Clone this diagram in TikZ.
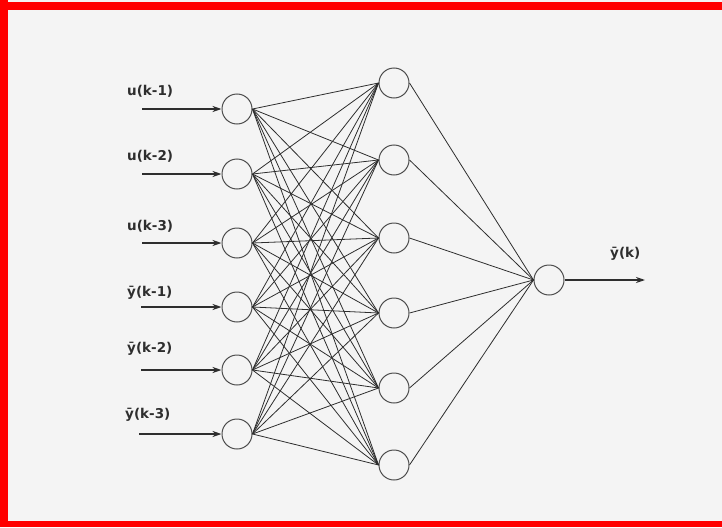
\documentclass[tikz,border=0pt]{standalone}
\usepackage{fontspec}
\setmainfont{DejaVu Sans}
\usetikzlibrary{positioning,arrows.meta}
\definecolor{frame}{HTML}{FF0000}
\definecolor{paper}{HTML}{F4F4F4}
\definecolor{ink}{HTML}{2E2E2E}

\begin{document}
\begin{tikzpicture}[x=1pt, y=-1pt, >={Stealth[length=9pt,width=6pt]},
    neuron/.style={circle, draw=ink!85, line width=1pt, minimum size=30pt, inner sep=0pt},
    wire/.style={draw=ink, line width=0.8pt},
    feed/.style={->, draw=ink, line width=2pt},
    lbl/.style={font=\bfseries\fontsize{13.5}{15}\selectfont, text=ink, inner sep=0pt, anchor=base west}]
    % paper and frame
    \useasboundingbox (0,0) rectangle (722,527);
    \fill[paper] (0,0) rectangle (722,527);
    \fill[frame] (0,2) rectangle (722,10);
    \fill[frame] (0,0) rectangle (8,527);
    \fill[frame] (0,521) rectangle (722,527);
    % input layer
    \foreach \i/\y/\ly/\lx/\sx/\txt in {1/109/95/127/142/u(k-1), 2/174/160/127/142/u(k-2), 3/243/230/127/142/u(k-3),
        4/307/296/127/141/ȳ(k-1), 5/370/352/127/141/ȳ(k-2), 6/434/418/125/139/ȳ(k-3)} {
      \node[neuron] (in\i) at (237,\y) {};
      \coordinate (src\i) at (\sx,\y);
      \draw[feed] (src\i) -- (in\i.west);
      \node[lbl] (lab\i) at (\lx,\ly) {\txt};
    }
    % hidden layer
    \foreach \j/\y in {1/83, 2/160, 3/238, 4/313, 5/388, 6/465}
      \node[neuron] (hid\j) at (394,\y) {};
    \foreach \i in {1,...,6}
      \foreach \j in {1,...,6}
        \draw[wire] (in\i.east) -- (hid\j.west);
    % output layer
    \node[neuron] (out) at (549,280) {};
    \foreach \j in {1,...,6}
      \draw[wire] (hid\j.east) -- (out.west);
    \coordinate (sink) at (645,280);
    \draw[feed] (out.east) -- (sink);
    \node[lbl] (labout) at (610,257) {ȳ(k)};
  \end{tikzpicture}
\end{document}
